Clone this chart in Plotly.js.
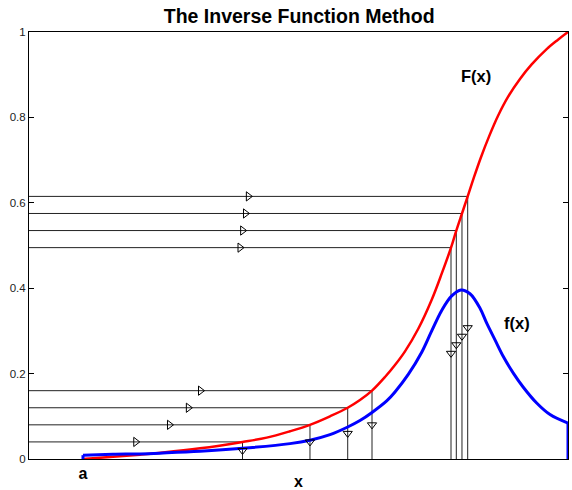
<!DOCTYPE html>
<html>
<head>
<meta charset="utf-8">
<script src="https://cdn.plot.ly/plotly-3.0.1.min.js"></script>
<style>html,body{margin:0;padding:0;background:#fff;}#chart{width:572px;height:490px;}</style>
</head>
<body>
<div id="chart"></div>
<script>
// Cumulative distribution F(x) (red); x: a = 0, b = 1
const Fx = [0, 0.0619, 0.1175, 0.1649, 0.2412, 0.3289, 0.3788, 0.4268, 0.4680, 0.5093, 0.5458, 0.5711, 0.5959, 0.6227, 0.6433, 0.6639, 0.6913, 0.7190, 0.7396, 0.7588, 0.7697, 0.7814, 0.7932, 0.8062, 0.8200, 0.8371, 0.8563, 0.8763, 0.9010, 0.9251, 0.9560, 0.9794, 1.0];
const Fy = [0, 0.005, 0.010, 0.015, 0.025, 0.040, 0.050, 0.065, 0.080, 0.100, 0.120, 0.138, 0.160, 0.192, 0.220, 0.252, 0.305, 0.373, 0.434, 0.495, 0.535, 0.575, 0.615, 0.660, 0.705, 0.755, 0.805, 0.848, 0.890, 0.924, 0.960, 0.982, 1.0];

// Density f(x) (blue)
const fx = [0, 0.0619, 0.1175, 0.1649, 0.2412, 0.3289, 0.4268, 0.4680, 0.5093, 0.5458, 0.5711, 0.5959, 0.6262, 0.6433, 0.6707, 0.6984, 0.7190, 0.7396, 0.7602, 0.7794, 0.7979, 0.8186, 0.8324, 0.8495, 0.8666, 0.8872, 0.9078, 0.9354, 0.9629, 1.0];
const fy = [0.009, 0.011, 0.012, 0.014, 0.018, 0.025, 0.036, 0.044, 0.057, 0.075, 0.090, 0.109, 0.136, 0.157, 0.198, 0.250, 0.300, 0.348, 0.382, 0.396, 0.387, 0.353, 0.318, 0.279, 0.240, 0.201, 0.168, 0.131, 0.104, 0.084];

// Uniform samples u and their inverse images x = F^-1(u)
const uVals = [0.04, 0.08, 0.12, 0.16, 0.495, 0.535, 0.575, 0.615];
const xSamples = [0.3289, 0.4680, 0.5458, 0.5959, 0.7588, 0.7697, 0.7814, 0.7932];

const xTickVals = [0, 1];
const xTickText = ['a', 'b'];
const yTickVals = [0, 0.2, 0.4, 0.6, 0.8, 1];

const xRange = [-0.1113, 1.0];
const font = '"Liberation Sans", Arial, Helvetica, sans-serif';

// guide lines: horizontal from left axis to sample, then vertical down to 0
const gx = [], gy = [];
uVals.forEach((u, i) => {
  gx.push(xRange[0], xSamples[i], xSamples[i], null);
  gy.push(u, u, 0, null);
});
const rightArrowX = xSamples.map(x => (xRange[0] + x) / 2);
const downArrowY = uVals.map(u => u / 2);

const traces = [
  {x: gx, y: gy, mode: 'lines', line: {color: '#222', width: 1}, hoverinfo: 'skip'},
  {x: Fx, y: Fy, mode: 'lines', line: {color: '#ff0000', width: 2.5, shape: 'spline', smoothing: 1}},
  {x: fx, y: fy, mode: 'lines', line: {color: '#0000ff', width: 3, shape: 'spline', smoothing: 1}},
  {x: [fx[0], fx[0]], y: [0, fy[0]], mode: 'lines', line: {color: '#0000ff', width: 3}},
  {x: [fx[fx.length-1], fx[fx.length-1]], y: [0, fy[fy.length-1]], mode: 'lines', line: {color: '#0000ff', width: 3}},
  {x: rightArrowX, y: uVals, mode: 'markers', marker: {symbol: 'triangle-right-open', size: 8, color: '#000', line: {width: 1}}},
  {x: xSamples, y: downArrowY, mode: 'markers', marker: {symbol: 'triangle-down-open', size: 8, color: '#000', line: {width: 1}}}
];

const layout = {
  width: 572, height: 490,
  margin: {l: 29, r: 4, t: 32, b: 31},
  paper_bgcolor: '#fff', plot_bgcolor: '#fff',
  showlegend: false,
  font: {family: font, color: '#000'},
  title: {text: '<b>The Inverse Function Method</b>', font: {size: 19.5, family: font, color: '#000'},
          xref: 'container', x: 0.523, xanchor: 'center', yref: 'container', y: 0.967, yanchor: 'middle'},
  xaxis: {
    range: xRange, showgrid: false, zeroline: false,
    showline: true, linecolor: '#000', linewidth: 1, mirror: true,
    ticks: '', tickvals: xTickVals, ticktext: xTickText.map(t => '<b>' + t + '</b>'),
    tickfont: {size: 16, family: font, color: '#000'},
    title: {text: '<b>x</b>', font: {size: 16, family: font, color: '#000'}, standoff: 0}
  },
  yaxis: {
    range: [0, 1], showgrid: false, zeroline: false,
    showline: true, linecolor: '#000', linewidth: 1, mirror: 'ticks',
    ticks: 'inside', ticklen: 5, tickcolor: '#000', tickvals: yTickVals,
    tickfont: {size: 11.5, family: font, color: '#222'}
  },
  annotations: [
    {x: 0.8103, y: 0.897, xref: 'x', yref: 'y', text: '<b>F(x)</b>', showarrow: false, font: {size: 16.5, family: font, color: '#000'}},
    {x: 0.8942, y: 0.3185, xref: 'x', yref: 'y', text: '<b>f(x)</b>', showarrow: false, font: {size: 16.5, family: font, color: '#000'}}
  ]
};

Plotly.newPlot('chart', traces, layout, {displayModeBar: false, staticPlot: true});
</script>
</body>
</html>
